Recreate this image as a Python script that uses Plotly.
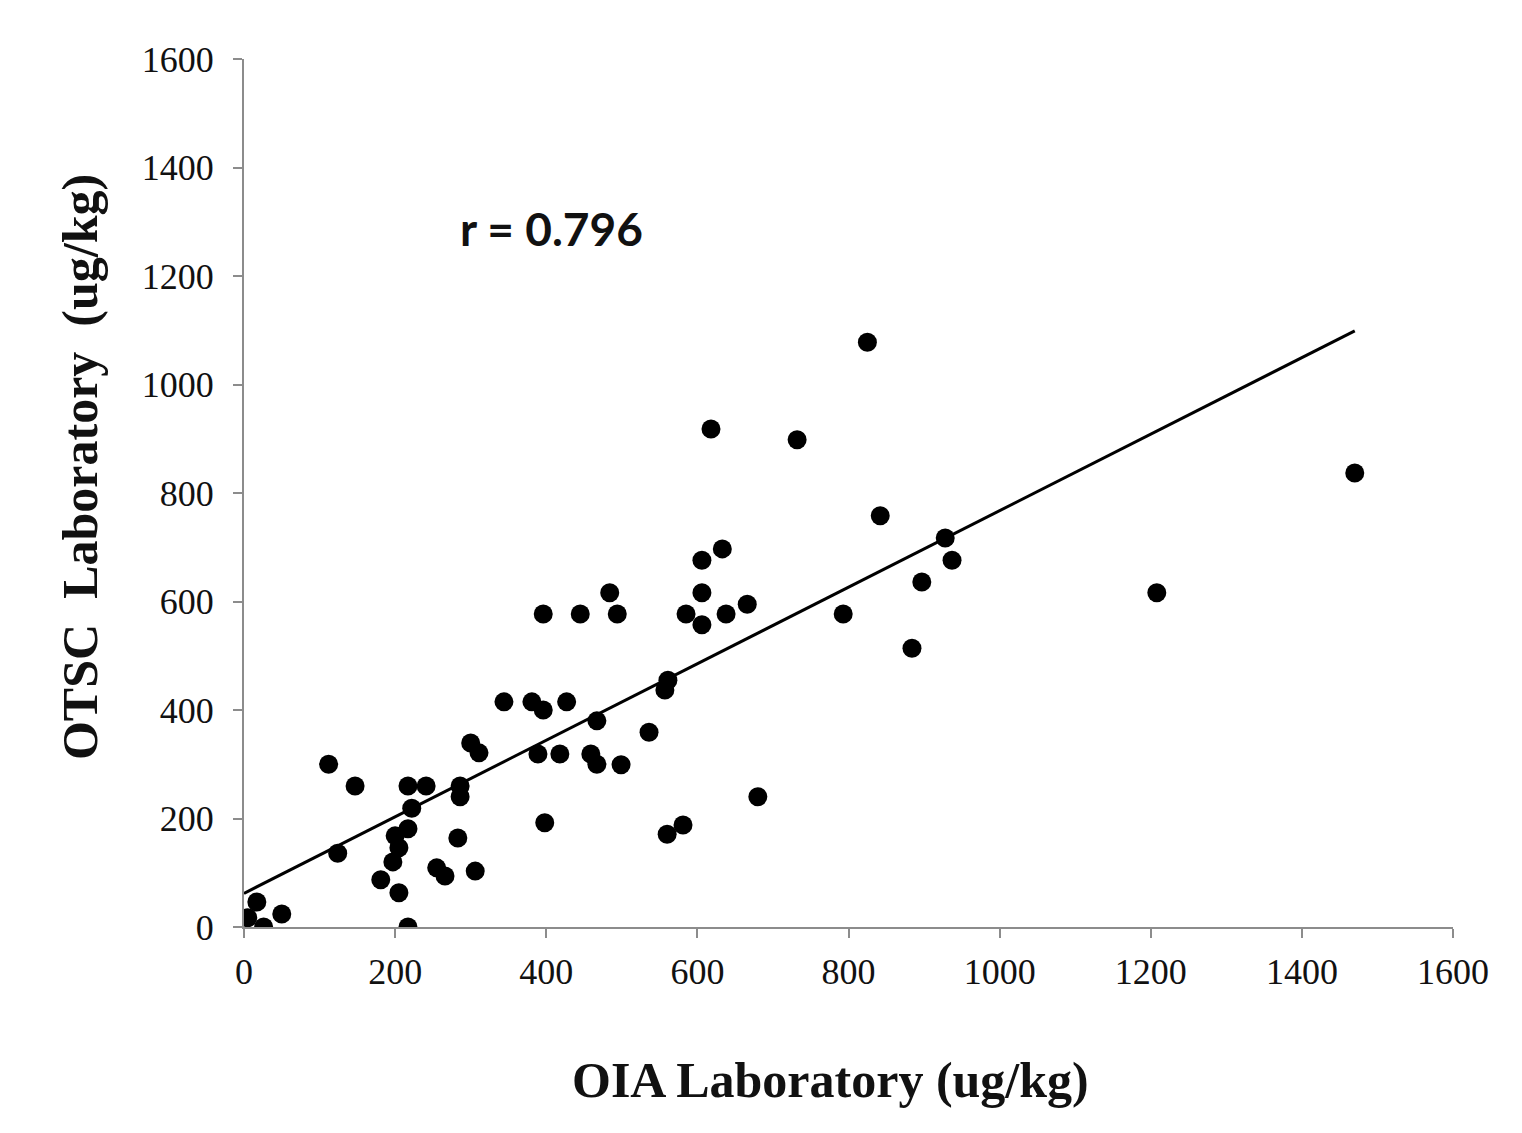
import plotly.graph_objects as go

# OIA laboratory values (x) and OTSC laboratory values (y), ug/kg
oia = [5, 17, 26, 50, 112, 124, 147, 181, 197, 200, 205, 205, 217, 217, 222, 217,
       241, 255, 266, 283, 286, 286, 300, 311, 306, 344, 381, 396, 389, 398, 396,
       427, 418, 445, 467, 459, 467, 484, 494, 499, 536, 557, 561, 560, 581, 585,
       606, 606, 606, 618, 633, 638, 666, 680, 732, 793, 825, 842, 884, 897, 928,
       937, 1208, 1470]
otsc = [17, 46, 0, 24, 300, 136, 260, 87, 120, 168, 146, 63, 181, 260, 219, 0,
        260, 109, 94, 164, 260, 240, 339, 321, 103, 415, 415, 400, 319, 192, 577,
        415, 319, 577, 380, 319, 300, 616, 577, 299, 359, 437, 455, 171, 188, 577,
        676, 616, 557, 918, 697, 577, 595, 240, 898, 577, 1078, 758, 514, 636, 717,
        676, 616, 837]

# trend line end points
trend_x = [0, 1470]
trend_y = [62, 1099]

ticks = [0, 200, 400, 600, 800, 1000, 1200, 1400, 1600]
r_label = "r = 0.796"
x_title = "OIA Laboratory (ug/kg)"
y_title = "OTSC  Laboratory  (ug/kg)"

fig = go.Figure()
fig.add_trace(go.Scatter(x=trend_x, y=trend_y, mode="lines",
                         line=dict(color="black", width=3), hoverinfo="skip"))
fig.add_trace(go.Scatter(x=oia, y=otsc, mode="markers",
                         marker=dict(color="black", size=19)))

axis_common = dict(range=[0, 1600], tickvals=ticks, ticktext=[str(t) for t in ticks],
                   showgrid=False, zeroline=False, showline=True,
                   linecolor="#8c8c8c", linewidth=2, ticks="outside",
                   tickcolor="#8c8c8c", ticklen=9, tickwidth=2,
                   tickfont=dict(family="Liberation Serif", size=36, color="#111"))

title_font = dict(family="Liberation Serif", size=50, color="#111")

fig.update_layout(
    width=1522, height=1133,
    margin=dict(l=236, r=77, t=51, b=214),
    paper_bgcolor="white", plot_bgcolor="white",
    showlegend=False,
    xaxis=dict(**axis_common, ticklabelstandoff=3),
    yaxis=dict(**axis_common, ticklabelstandoff=12),
    annotations=[
        dict(x=283, y=1288, xref="x", yref="y", text=f"<b>{r_label}</b>",
             showarrow=False, xanchor="left", yanchor="middle",
             font=dict(family="Lato", size=46, color="#111")),
        dict(x=0.4855, y=-0.176, xref="paper", yref="paper", text=f"<b>{x_title}</b>",
             showarrow=False, xanchor="center", yanchor="middle", font=title_font),
        dict(x=-0.1356, y=0.530, xref="paper", yref="paper", text=f"<b>{y_title}</b>",
             showarrow=False, xanchor="center", yanchor="middle", textangle=-90,
             font=title_font),
    ],
)

fig.write_html("out.html")
